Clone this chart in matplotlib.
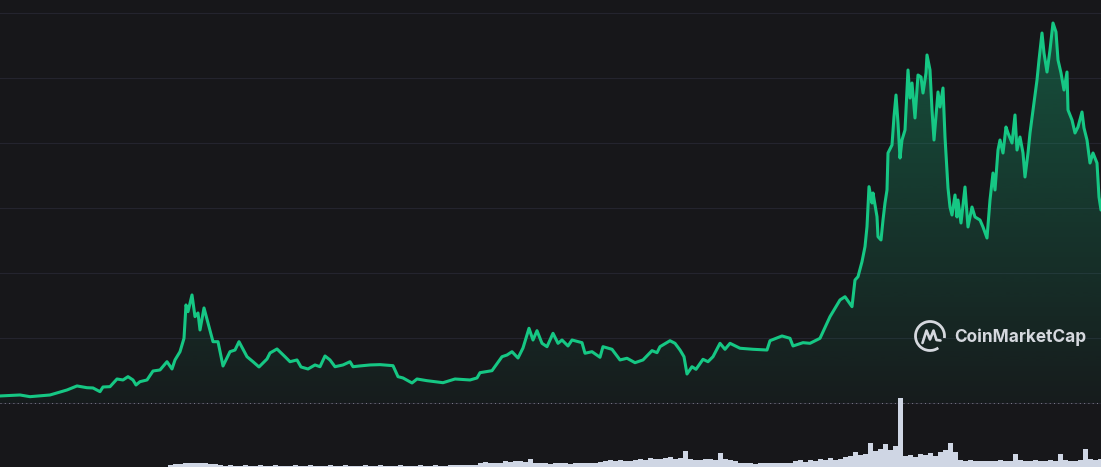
import numpy as np
import matplotlib
matplotlib.use("Agg")
import matplotlib.pyplot as plt
from matplotlib.colors import to_rgb
from matplotlib.patches import Polygon, Arc

# price history (time index, price in $k)
t = [
    0, 20, 30, 50, 60, 67, 77, 87, 93, 100,
    103, 110, 117, 123, 128, 133, 136, 140, 147, 153,
    160, 167, 172, 175, 180, 184, 186, 188, 192, 195,
    198, 200, 204, 208, 213, 218, 223, 230, 235, 239,
    247, 253, 259, 267, 270, 277, 285, 290, 297, 301,
    308, 315, 320, 325, 330, 335, 343, 350, 353, 360,
    370, 380, 393, 398, 403, 412, 417, 427, 443, 455,
    470, 477, 480, 492, 502, 507, 512, 518, 523, 529,
    533, 537, 542, 547, 553, 558, 562, 568, 572, 582,
    585, 592, 600, 603, 612, 620, 627, 635, 643, 652,
    657, 660, 670, 675, 680, 684, 687, 692, 696, 703,
    708, 713, 720, 725, 730, 740, 753, 767, 770, 782,
    790, 793, 803, 810, 820, 830, 840, 845, 852, 855,
    858, 862, 865, 867, 869, 872, 873, 877, 878, 881,
    883, 885, 887, 888, 892, 894, 896, 898, 900, 902,
    905, 907, 908, 910, 912, 915, 918, 921, 923, 926,
    927, 930, 932, 934, 937, 938, 940, 943, 945, 948,
    950, 952, 955, 957, 958, 961, 965, 968, 972, 975,
    980, 983, 987, 990, 993, 995, 998, 1000, 1003, 1006,
    1008, 1012, 1015, 1017, 1020, 1023, 1025, 1028, 1030, 1033,
    1037, 1039, 1042, 1044, 1047, 1050, 1053, 1056, 1058, 1061,
    1064, 1067, 1068, 1072, 1075, 1078, 1082, 1084, 1087, 1090,
    1093, 1097, 1099, 1101,
]
price = [
    1.08, 1.23, 0.97, 1.23, 1.69, 2.00, 2.62, 2.35, 2.31, 1.74,
    2.46, 2.51, 3.69, 3.54, 4.05, 3.54, 2.77, 3.28, 3.54, 4.92,
    5.08, 6.35, 5.23, 6.62, 7.89, 9.95, 15.08, 14.05, 16.62, 13.28,
    13.85, 11.23, 14.62, 12.31, 9.43, 9.43, 5.69, 7.89, 8.15, 9.43,
    7.12, 6.35, 5.54, 6.77, 7.69, 8.31, 7.12, 6.35, 6.62, 5.54,
    5.23, 5.85, 5.58, 7.23, 6.62, 5.58, 5.85, 6.35, 5.58, 5.70,
    5.85, 5.90, 5.74, 4.05, 3.85, 3.08, 3.69, 3.43, 3.12, 3.69,
    3.54, 3.85, 4.66, 4.97, 7.12, 7.38, 7.89, 6.92, 8.46, 11.49,
    9.69, 11.12, 9.18, 8.66, 10.72, 9.18, 9.69, 8.77, 9.69, 9.28,
    7.65, 7.89, 7.03, 8.66, 8.26, 6.62, 6.88, 6.20, 6.62, 8.05,
    7.74, 8.66, 9.58, 9.18, 8.15, 7.12, 4.46, 5.58, 5.18, 6.72,
    6.35, 7.12, 9.18, 8.26, 9.18, 8.42, 8.26, 8.15, 9.58, 10.31,
    9.95, 8.77, 9.28, 9.18, 9.95, 13.28, 15.85, 16.35, 14.82, 18.92,
    19.43, 21.74, 24.05, 27.12, 33.28, 30.77, 32.31, 28.66, 25.58, 25.08,
    28.15, 30.77, 32.77, 38.46, 39.69, 44.05, 47.38, 43.08, 37.69, 40.46,
    42.00, 48.15, 51.23, 46.92, 49.23, 43.85, 50.46, 50.15, 47.69, 50.77,
    53.54, 51.23, 45.08, 40.46, 46.15, 47.85, 45.54, 48.46, 40.92, 33.08,
    30.15, 28.92, 32.00, 28.62, 31.23, 27.69, 33.23, 27.08, 30.15, 28.62,
    28.15, 27.08, 25.38, 31.23, 35.38, 32.77, 38.92, 40.46, 38.46, 42.46,
    41.54, 40.00, 44.31, 38.92, 40.92, 38.46, 34.77, 38.46, 41.54, 45.08,
    49.69, 52.77, 56.92, 53.85, 50.92, 54.31, 58.46, 57.08, 52.77, 50.77,
    48.15, 50.92, 45.08, 43.54, 41.54, 42.46, 44.77, 42.31, 40.46, 36.92,
    38.46, 36.92, 31.69, 29.69,
]

# traded volume, one bar per 5 time steps
vol_t = list(range(0, 1101, 5))
volume = [
    0, 0, 0, 0, 0, 0, 0, 0, 0, 0,
    0, 0, 0, 0, 0, 0, 0, 0, 0, 0,
    0, 0, 0, 0, 1, 1, 1, 1, 1, 1,
    1, 1, 1, 1, 4, 6, 7, 8, 9, 8,
    9, 8, 7, 6, 4, 3, 4, 3, 3, 4,
    3, 3, 4, 3, 3, 4, 3, 3, 3, 4,
    3, 3, 4, 3, 3, 3, 4, 3, 3, 4,
    3, 3, 3, 4, 3, 3, 4, 3, 3, 3,
    4, 3, 3, 3, 4, 3, 3, 4, 3, 3,
    4, 5, 4, 5, 5, 4, 9, 10, 9, 8,
    9, 12, 11, 13, 12, 11, 17, 8, 9, 8,
    7, 8, 9, 8, 7, 8, 9, 8, 8, 9,
    10, 13, 15, 12, 14, 13, 12, 14, 16, 15,
    18, 17, 16, 18, 20, 17, 18, 32, 16, 14,
    15, 17, 16, 15, 28, 16, 14, 12, 8, 9,
    8, 7, 8, 9, 8, 8, 9, 8, 9, 12,
    14, 11, 15, 13, 16, 14, 18, 15, 17, 20,
    22, 30, 24, 26, 48, 32, 36, 46, 34, 42,
    138, 22, 24, 20, 26, 24, 28, 22, 30, 34,
    48, 30, 14, 12, 14, 13, 12, 12, 13, 12,
    14, 13, 12, 26, 14, 13, 12, 14, 13, 12,
    14, 13, 26, 14, 12, 13, 14, 36, 16, 14,
    16,
]

grid_levels = [0, 10, 20, 30, 40, 50, 60]

BG = "#17171a"
GREEN = "#16c784"
GRID = "#24242e"
LOGO = "#d5d8de"

fig = plt.figure(figsize=(11.01, 4.67), dpi=100)
fig.patch.set_facecolor(BG)

ax = fig.add_axes([0, 0, 1, 1])
ax.set_facecolor(BG)
ax.axis("off")

for lvl in grid_levels:
    ax.axhline(lvl, color=GRID, lw=0.8, zorder=0)
ax.axhline(0, color="#7a7a86", lw=0.72, linestyle=(0, (1, 3.3)), zorder=2)

# gradient fill under the line
top = max(price)
rgba = np.zeros((256, 1, 4))
rgba[..., :3] = to_rgb(GREEN)
rgba[:, 0, 3] = np.linspace(0.03, 0.33, 256)
im = ax.imshow(rgba, extent=[t[0], t[-1], 0, top], origin="lower",
               aspect="auto", interpolation="bilinear", zorder=1)
verts = [(t[0], 0)] + list(zip(t, price)) + [(t[-1], 0)]
clip = Polygon(verts, closed=True, transform=ax.transData,
               facecolor="none", edgecolor="none")
ax.add_patch(clip)
im.set_clip_path(clip)

ax.plot(t, price, color=GREEN, lw=2.2, zorder=3,
        solid_joinstyle="round", solid_capstyle="round")

ax.set_xlim(0, 1101)
ax.set_ylim(-9.85, 62.0)

# volume strip
vax = fig.add_axes([0, 0, 1, 1])
vax.patch.set_alpha(0)
vax.axis("off")
vax.bar(vol_t, volume, width=5.0, color="#cfd6e4", linewidth=0)
vax.set_xlim(0, 1101)
vax.set_ylim(0, 934)

# watermark
lax = fig.add_axes([0, 0, 1, 1])
lax.patch.set_alpha(0)
lax.axis("off")
lax.set_xlim(0, 1101)
lax.set_ylim(467, 0)
lax.add_patch(Arc((930, 336), 29, 29, theta1=55, theta2=368,
                  color=LOGO, lw=2.0))
lax.plot([922.5, 926.5, 930, 933.5, 936.5, 940.5],
         [343, 330.5, 339.5, 330.5, 340, 340.5],
         color=LOGO, lw=1.9, solid_joinstyle="round", solid_capstyle="round")
lax.text(954, 337, "CoinMarketCap", fontsize=12.4, fontweight="bold",
         family=["Inter", "DejaVu Sans"], color=LOGO, va="center", ha="left")

fig.savefig("out.png", dpi=100, facecolor=BG)
